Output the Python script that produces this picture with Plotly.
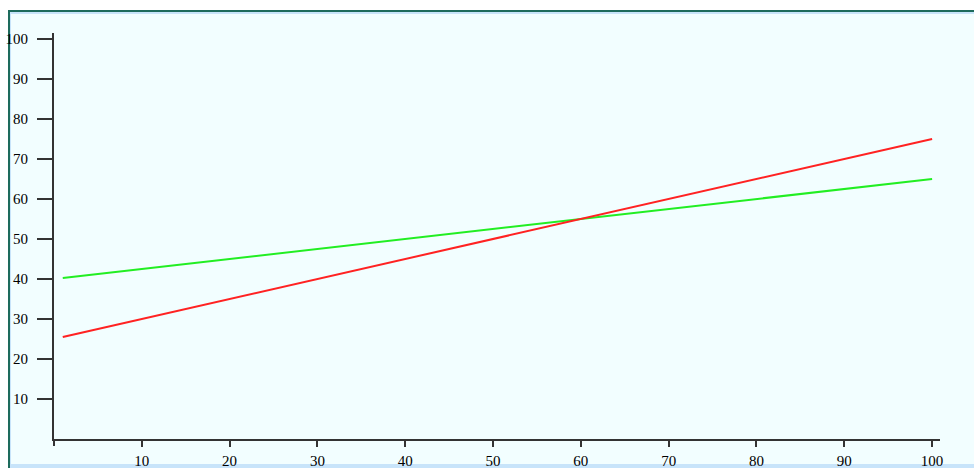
import plotly.graph_objects as go

x_vals = [1, 20, 40, 60, 80, 100]
red_vals = [25.5, 35, 45, 55, 65, 75]
green_vals = [40.25, 45, 50, 55, 60, 65]
x_ticks = [10, 20, 30, 40, 50, 60, 70, 80, 90, 100]
y_ticks = [10, 20, 30, 40, 50, 60, 70, 80, 90, 100]

W, H = 974, 468
L, R, T, B = 54, 34, 33, 29
pw, ph = W - L - R, H - T - B


def px(xp):
    return (xp - L) / pw


def py(yp):
    return (H - B - yp) / ph


fig = go.Figure()
fig.add_trace(go.Scatter(x=x_vals, y=green_vals, mode="lines",
                         line=dict(color="#22ee22", width=2), showlegend=False))
fig.add_trace(go.Scatter(x=x_vals, y=red_vals, mode="lines",
                         line=dict(color="#ff2222", width=2), showlegend=False))

shapes = [
    dict(type="rect", xref="paper", yref="paper", x0=px(8), x1=px(974), y0=py(10), y1=py(468),
         fillcolor="#1d6b5c", line=dict(width=0), layer="below"),
    dict(type="rect", xref="paper", yref="paper", x0=px(10), x1=px(974), y0=py(12), y1=py(468),
         fillcolor="#c8e4fa", line=dict(width=0), layer="below"),
    dict(type="rect", xref="paper", yref="paper", x0=px(11), x1=px(974), y0=py(14), y1=py(464),
         fillcolor="#f2feff", line=dict(width=0), layer="below"),
    dict(type="line", xref="paper", yref="paper", x0=px(54), x1=px(54), y0=py(439), y1=py(446),
         line=dict(color="#333333", width=2)),
]

fig.update_layout(
    width=W, height=H,
    margin=dict(l=L, r=R, t=T, b=B, autoexpand=False),
    paper_bgcolor="white",
    plot_bgcolor="rgba(0,0,0,0)",
    shapes=shapes,
    font=dict(family="Liberation Serif, Times New Roman, serif", size=15, color="#000000"),
    xaxis=dict(range=[0, 100.9], tickvals=x_ticks, showgrid=False, zeroline=False,
               automargin=False,
               showline=True, linecolor="#333333", linewidth=2,
               ticks="outside", ticklen=6, tickwidth=2, tickcolor="#333333",
               ticklabelstandoff=1, tickfont=dict(color="#000000")),
    yaxis=dict(range=[0, 101.5], tickvals=y_ticks, showgrid=False, zeroline=False,
               automargin=False,
               showline=True, linecolor="#333333", linewidth=2,
               ticks="outside", ticklen=15, tickwidth=2, tickcolor="#333333",
               ticklabelstandoff=6, tickfont=dict(color="#000000")),
)

js = "document.body.style.margin='0';document.body.style.overflow='hidden';"
fig.write_html("out.html", post_script=js, config={"displayModeBar": False})
